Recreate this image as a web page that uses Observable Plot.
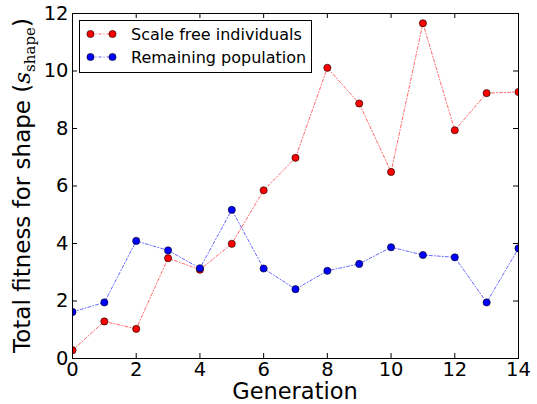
<!DOCTYPE html>
<html><head><meta charset="utf-8">
<script src="https://cdn.jsdelivr.net/npm/d3@7"></script>
<script src="https://cdn.jsdelivr.net/npm/@observablehq/plot@0.6"></script>
<style>html,body{margin:0;padding:0;background:#fff} svg{display:block}</style>
</head><body><div id="chart"></div>
<script>
const generations = [0,1,2,3,4,5,6,7,8,9,10,11,12,13,14];
const scaleFree = [0.29,1.29,1.03,3.49,3.09,3.99,5.85,6.98,10.11,8.87,6.49,11.66,7.94,9.23,9.27];
const remaining = [1.62,1.95,4.09,3.76,3.14,5.17,3.13,2.41,3.05,3.29,3.87,3.60,3.52,1.95,3.83];
const seriesNames = ["Scale free individuals", "Remaining population"];
const seriesColors = ["#ff0000", "#0000ff"];
const xTicks = [0,2,4,6,8,10,12,14];
const yTicks = [0,2,4,6,8,10,12];

const W = 537, H = 404, mL = 72, mR = 19, mT = 13, mB = 46;
const innerH = H - mT - mB;
const font = "'DejaVu Sans', sans-serif";
const dash = "3,2,1,2";

const rows = generations.flatMap((g, i) => [
  {g, v: scaleFree[i], s: seriesNames[0]},
  {g, v: remaining[i], s: seriesNames[1]}
]);

const chart = Plot.plot({
  width: W, height: H,
  marginLeft: mL, marginRight: mR, marginTop: mT, marginBottom: mB,
  style: {fontFamily: font, background: "#fff", color: "#000", overflow: "visible"},
  x: {domain: [0, 14]},
  y: {domain: [0, 12]},
  color: {domain: seriesNames, range: seriesColors},
  marks: [
    Plot.axisX(xTicks, {tickSize: 0, tickPadding: 4, fontSize: 19.5, label: null}),
    Plot.axisY(yTicks, {tickSize: 0, tickPadding: 4, fontSize: 19.5, label: null}),
    Plot.line(rows, {x: "g", y: "v", z: "s", stroke: "s", strokeWidth: 0.7, strokeOpacity: 0.85, strokeDasharray: dash, clip: true}),
    Plot.dot(rows, {x: "g", y: "v", fill: "s", stroke: "#000", strokeWidth: 0.6, r: 3.6, clip: true}),
    Plot.tickX(xTicks, {x: d => d, insetTop: innerH - 5, stroke: "#000"}),
    Plot.tickX(xTicks, {x: d => d, insetBottom: innerH - 5, stroke: "#000"}),
    Plot.tickY(yTicks, {y: d => d, insetRight: (W - mL - mR) - 5, stroke: "#000"}),
    Plot.tickY(yTicks, {y: d => d, insetLeft: (W - mL - mR) - 5, stroke: "#000"}),
    Plot.frame({stroke: "#000", strokeWidth: 1})
  ]
});
document.getElementById("chart").appendChild(chart);

const svg = d3.select(chart);
// x label
svg.append("text").attr("x", mL + (W - mL - mR) / 2).attr("y", 399)
  .attr("text-anchor", "middle").attr("font-family", font).attr("font-size", 22.5)
  .text("Generation");
// y label with math subscript
const yl = svg.append("text")
  .attr("transform", `translate(30,${mT + innerH / 2}) rotate(-90)`)
  .attr("text-anchor", "middle").attr("font-family", font).attr("font-size", 23);
yl.append("tspan").text("Total fitness for shape (");
yl.append("tspan").attr("font-family", "'DejaVu Serif', serif").attr("font-style", "italic").text("s");
yl.append("tspan").attr("font-family", "'DejaVu Serif', serif").attr("font-size", 15).attr("dy", 5).text("shape");
yl.append("tspan").attr("dy", -5).text(")");

// legend
const lg = svg.append("g").attr("font-family", font).attr("text-anchor", "start");
lg.append("rect").attr("x", 79.5).attr("y", 20.5).attr("width", 232).attr("height", 52)
  .attr("fill", "#fff").attr("stroke", "#000").attr("stroke-width", 1);
seriesNames.forEach((name, i) => {
  const cy = 34 + i * 23;
  lg.append("line").attr("x1", 90.5).attr("x2", 112.5).attr("y1", cy).attr("y2", cy)
    .attr("stroke", seriesColors[i]).attr("stroke-width", 0.7).attr("stroke-opacity", 0.85).attr("stroke-dasharray", dash);
  [90.5, 112.5].forEach(cx => lg.append("circle").attr("cx", cx).attr("cy", cy).attr("r", 3.6)
    .attr("fill", seriesColors[i]).attr("stroke", "#000").attr("stroke-width", 0.6));
  lg.append("text").attr("x", 131).attr("y", cy).attr("dy", "0.35em")
    .attr("font-size", 16).attr("text-anchor", "start").text(name);
});
</script>
</body></html>
